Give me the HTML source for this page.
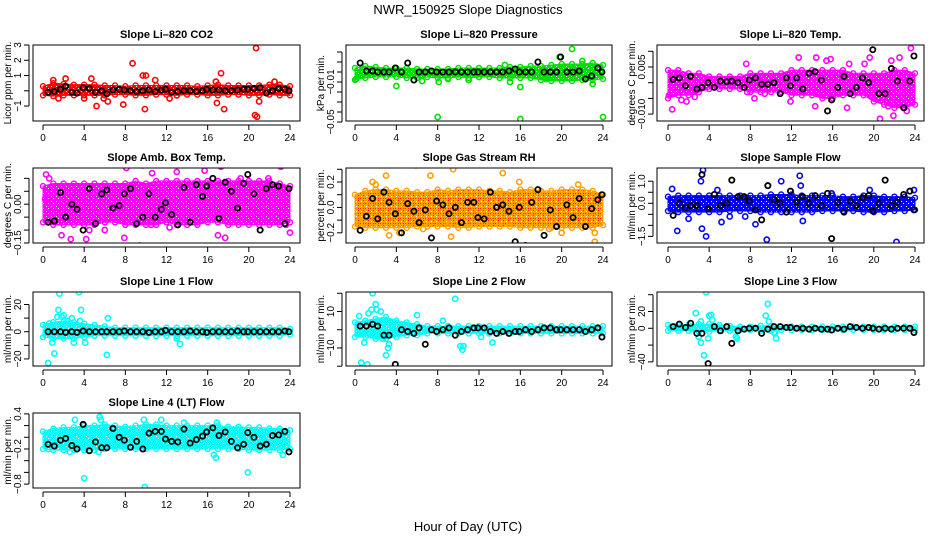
<!DOCTYPE html>
<html><head><meta charset="utf-8">
<style>
html,body{margin:0;padding:0;background:#fff;}
svg{display:block;font-family:"Liberation Sans",sans-serif;}
</style></head>
<body>
<svg id="chart" width="936" height="540" viewBox="0 0 936 540">
<defs id="defs"></defs>
<text x="468" y="14" text-anchor="middle" font-size="13">NWR_150925  Slope Diagnostics</text>
<text x="468" y="531" text-anchor="middle" font-size="13">Hour of Day (UTC)</text>
</svg>
<script>
// shared x positions (hours) of black points
const blkX=[0.5,1.1,1.7,2.2,2.8,3.3,3.9,4.5,5.1,5.7,6.2,6.8,7.4,7.9,8.5,9.1,9.7,10.3,10.9,11.5,11.9,12.5,13.1,13.7,14.3,14.9,15.5,15.9,16.5,17.1,17.7,18.3,18.9,19.5,19.9,20.5,21.1,21.7,22.3,22.9,23.5,23.9];
const bandHours=[0,1,2,3,4,5,6,7,8,9,10,11,12,13,14,15,16,17,18,19,20,21,22,23,24];
const xTicks=[0,4,8,12,16,20,24];

// P1 CO2
const co2Lo=[-0.3,-0.35,-0.3,-0.3,-0.3,-0.3,-0.3,-0.25,-0.25,-0.3,-0.3,-0.25,-0.25,-0.3,-0.25,-0.25,-0.3,-0.3,-0.25,-0.25,-0.3,-0.3,-0.25,-0.3,-0.3];
const co2Hi=[0.3,0.5,0.45,0.4,0.4,0.4,0.35,0.35,0.3,0.35,0.35,0.35,0.35,0.35,0.35,0.3,0.35,0.4,0.35,0.35,0.35,0.35,0.4,0.4,0.3];
const co2OutX=[1,2.2,4.7,4,5.2,6.3,7.8,8.7,9.7,10,9.9,10.9,12.3,16.8,17.3,17.6,16.9,20.7,20.6,20.8,21,1.5,5.9,13,22.5];
const co2OutY=[0.7,0.8,0.8,-0.5,-1,-0.7,-0.9,1.8,1.0,1.0,-1.2,0.7,-0.5,0.6,1.15,-1.2,-0.8,2.8,-1.6,-1.7,-0.7,-0.5,-0.5,-0.3,0.6];
const co2Blk=[-0.1,-0.05,0.1,0.3,-0.1,-0.15,0.2,0.15,-0.1,0.0,-0.2,0.05,0.1,0.05,0.0,-0.05,0.0,0.05,-0.05,0.05,0.1,-0.1,-0.05,0.0,0.0,-0.05,0.0,0.1,0.05,0.05,0.0,0.0,0.05,0.1,0.1,0.15,0.2,-0.15,0.0,0.15,0.1,0.0];
// P2 Pressure
const prLo=[-0.008,-0.006,-0.005,-0.005,-0.005,-0.006,-0.006,-0.005,-0.006,-0.006,-0.005,-0.006,-0.005,-0.005,-0.006,-0.006,-0.006,-0.006,-0.008,-0.009,-0.009,-0.009,-0.008,-0.008,-0.007];
const prHi=[0.004,0.006,0.005,0.004,0.004,0.004,0.003,0.003,0.003,0.003,0.004,0.004,0.004,0.004,0.004,0.005,0.005,0.006,0.006,0.007,0.008,0.008,0.008,0.009,0.007];
const prOutX=[0.1,4,8,8.1,16,16,24,21,19.8,22,23,15,11,6.5,9,14.5,18.5,12];
const prOutY=[-0.007,-0.014,-0.045,-0.01,-0.047,-0.015,-0.045,0.023,0.015,0.011,-0.012,-0.01,-0.008,-0.009,-0.007,0.007,-0.007,-0.005];
const prBlk=[0.009,0.001,0.001,0,0,0,0.004,0,0.009,-0.008,0,0,0.001,0,0,0,0,0,0,0,0,0,0,0,0,0.001,0.003,0,0,0,0.01,0,0,0,0.015,0,0,0.001,-0.007,-0.004,0.004,0];
// P3 Li-820 Temp
const tpLo=[-0.005,-0.004,-0.004,-0.003,-0.002,-0.002,-0.002,-0.002,-0.003,-0.003,-0.003,-0.003,-0.004,-0.004,-0.004,-0.005,-0.005,-0.004,-0.004,-0.004,-0.006,-0.007,-0.008,-0.008,-0.007];
const tpHi=[0.004,0.004,0.003,0.003,0.002,0.002,0.002,0.002,0.003,0.003,0.003,0.003,0.004,0.004,0.004,0.004,0.004,0.004,0.003,0.003,0.003,0.003,0.004,0.004,0.003];
const tpOutX=[0.4,1.3,1.8,2.6,7.6,7.7,8.4,9.4,12.7,11.9,14.4,14.3,15.4,15.8,17.4,17.6,19.1,19.6,20.6,21.4,21.7,21.9,22.5,23.6,23.2,22.8,0.1];
const tpOutY=[-0.0085,-0.0055,-0.006,-0.0045,0.006,-0.003,-0.005,-0.0035,0.008,-0.006,0.008,-0.0075,0.007,0.0075,-0.008,0.006,0.006,0.008,-0.0115,-0.0075,0.007,-0.0105,0.008,0.011,-0.009,-0.003,-0.004];
const tpBlk=[0.001,0.0015,-0.001,0.002,-0.002,-0.0015,0,-0.0015,0.0005,0.0003,0.0005,0,-0.0015,0.0008,0.0015,-0.0005,-0.0005,0,-0.0035,0.0015,-0.001,0.0015,-0.002,0.003,0.0035,0.0008,-0.009,-0.0055,-0.0015,0.002,-0.0035,-0.0015,0.0015,0,0.0105,-0.0035,-0.0035,0.0045,0.0005,-0.008,0.0005,0.0085];
// P4 Amb Box Temp
const abLo=[-0.07,-0.08,-0.08,-0.08,-0.08,-0.08,-0.07,-0.07,-0.08,-0.08,-0.08,-0.08,-0.07,-0.08,-0.08,-0.08,-0.07,-0.07,-0.08,-0.08,-0.08,-0.08,-0.08,-0.08,-0.07];
const abHi=[0.07,0.08,0.08,0.08,0.08,0.08,0.08,0.08,0.08,0.09,0.08,0.09,0.09,0.09,0.09,0.09,0.09,0.09,0.09,0.09,0.09,0.09,0.09,0.08,0.07];
const abOutX=[0.3,0.6,2.7,4.2,4.5,9.7,8.1,7.9,9.4,10.5,13,15.7,17.3,17,17.7,21.9,23.1,24,1.8,0.2,12.3,19.2,23.6,6,10.6];
const abOutY=[0.115,0.1,-0.135,-0.135,-0.1,0.15,0.14,-0.13,-0.16,-0.08,0.125,0.13,0.145,-0.12,-0.13,0.1,0.145,-0.11,-0.12,0.02,-0.09,0.1,-0.08,-0.1,0.12];
const abBlk=[-0.07,-0.065,0.045,-0.05,0,-0.02,-0.1,0.06,-0.075,0.04,0.055,-0.015,-0.005,0.04,0.06,-0.075,-0.05,0.04,-0.05,-0.02,0.005,-0.04,-0.08,0.065,-0.07,0.075,0.03,0.07,0.1,-0.055,0.085,0.05,-0.015,0.08,0.115,0.04,-0.1,0.06,0.075,0.07,-0.075,0.06];
// P5 Gas Stream RH
const rhLo=[-0.15,-0.16,-0.16,-0.16,-0.16,-0.16,-0.15,-0.15,-0.15,-0.15,-0.16,-0.16,-0.15,-0.15,-0.15,-0.15,-0.16,-0.16,-0.16,-0.16,-0.16,-0.16,-0.16,-0.16,-0.14];
const rhHi=[0.1,0.13,0.14,0.14,0.13,0.13,0.12,0.12,0.14,0.13,0.14,0.14,0.14,0.13,0.13,0.12,0.14,0.14,0.13,0.13,0.14,0.14,0.14,0.13,0.1];
const rhOutX=[1.7,3,5.9,7.3,9.5,14.3,0.4,3.3,6.6,8.2,9.3,23.2,23.2,20,21.6,15.9,2,4.3,8.9,18.8];
const rhOutY=[0.2,0.25,0.33,0.25,0.3,0.27,-0.1,-0.22,-0.17,-0.13,-0.23,-0.27,-0.2,-0.2,0.18,0.2,0.18,-0.2,-0.12,-0.17];
const rhBlk=[-0.18,-0.07,0.07,-0.09,0.12,0.04,-0.05,-0.2,0.03,-0.03,-0.12,-0.02,-0.24,0.05,0.02,-0.05,0,-0.12,0.04,0.04,-0.08,-0.09,0.12,0,0.02,-0.03,-0.27,0.0,-0.3,0.04,0.14,-0.22,-0.02,-0.15,-0.35,0.02,-0.08,0.07,-0.15,-0.01,0.06,0.1];
// P6 Sample Flow
const sfLo=[-0.35,-0.4,-0.4,-0.4,-0.4,-0.4,-0.35,-0.35,-0.35,-0.4,-0.4,-0.4,-0.4,-0.4,-0.4,-0.35,-0.35,-0.35,-0.35,-0.4,-0.4,-0.4,-0.35,-0.35,-0.3];
const sfHi=[0.3,0.35,0.35,0.35,0.35,0.35,0.35,0.35,0.35,0.35,0.4,0.4,0.4,0.35,0.35,0.35,0.35,0.3,0.3,0.35,0.35,0.3,0.3,0.3,0.25];
const sfOutX=[0.4,0.9,3.2,3.4,3.3,3.7,4.8,5.2,7.5,8.5,9.6,9.7,11.0,12.8,12.9,13.1,15.9,19.6,22.2,23.9,6,2];
const sfOutY=[0.65,-1.25,1.0,1.5,-1.15,-1.5,0.6,-0.85,-0.6,-0.95,-1.65,0.8,1.0,1.25,0.8,-0.8,0.45,0.6,-1.75,0.6,-0.6,-0.7];
const sfBlk=[-0.55,0,-0.2,-0.1,-0.1,1.3,-0.25,0.4,-0.1,0.0,1.05,0.3,0.3,0.1,-0.3,-0.75,0.8,0.15,0.0,-0.4,0.55,0.05,0.3,0.0,0.35,-0.1,0.45,-1.6,0.05,-0.4,0.1,-0.1,0.25,0.35,-0.35,0.0,1.05,-0.1,0.05,0.4,0.55,-0.3];
// P7 Line 1 Flow
const l1Lo=[-4,-5,-5,-5,-4,-3,-3,-3,-3,-3,-3,-3,-3,-3,-3,-3,-3,-3,-3,-3,-3,-3,-3,-3,-2];
const l1Hi=[5,7,8,7,6,5,4,3,3,3,3,3,3,3,3,3,3,3,3,3,3,3,3,3,2];
const l1OutX=[0.5,1.1,0.9,1.6,1.5,1.4,1.8,2.0,2.4,2.8,3.0,3.5,3.7,3.6,4.1,6.2,6.3,13.3,13,0.6,1.0,2.5];
const l1OutY=[-23,-16,-8,28,16,11,11,12,8,10,-8,29,16,8,-8,-17,10,-9,-5,6,5,6];
const l1Blk=[0,0,0,-0.5,0,-0.5,0.5,0,0,0,0,0,0,0.5,0,0,0,-0.5,0,0,1,0,0,0,0.5,0,0,-0.5,0,0,0,0,0.5,0,0,0,0,0,0,0,0.5,0];
// P8 Line 2 Flow
const l2Lo=[-4,-4,-5,-5,-4,-3,-3,-2,-2,-2,-2,-2,-2,-2,-2,-2,-2,-2,-2,-2,-2,-2,-2,-2,-2];
const l2Hi=[4,5,6,7,5,4,3,2,2,2,2,2,2,2,2,2,2,2,2,2,2,2,2,2,2];
const l2OutX=[0.4,1.3,1.6,1.7,2.0,2.1,2.5,2.3,2.7,3.0,3.2,3.3,0.6,1.2,0.9,6.0,9.7,8.5,10.2,10.4,10.5,12.2,13.3,13,2.8];
const l2OutY=[7.5,9,11,20,14,11,10,-3,-5,-14,-10,-8,-18,-19,-7,8,17,5,-9,-11,-9,-4,-7,-2,-3];
const l2Blk=[2,2,3,2,-3,-3,-19,0,-1,-2,1,-8,0,-1,0,1,-3,-1,0,1,1,1,-1,-2,-1,-2,-1,-1,0,-1,0,1,1,0,0,0,0,0,-1,0,1,-4];
// P9 Line 3 Flow
const l3Lo=[-3,-3,-3,-4,-4,-3,-3,-2,-2,-3,-3,-2,-2,-2,-2,-2,-2,-2,-2,-2,-2,-2,-2,-2,-2];
const l3Hi=[4,4,4,5,5,4,3,2,2,3,3,2,2,2,2,2,2,2,2,2,2,2,2,2,2];
const l3OutX=[2.7,3.0,3.2,3.5,3.7,3.9,4.0,4.2,4.3,6.6,6.7,9.5,9.7,9.8,10.3,10.5,10.4,3.2];
const l3OutY=[18,-10,-17,-32,43,-12,15,16,10,-10,-12,15,29,8,-5,-12,-6,8];
const l3Blk=[2,5,1,6,-6,-6,-42,2,-3,2,-18,-3,-1,0,0,-6,-1,2,2,1,1,0,0,-1,0,-1,-1,-2,0,-1,2,1,0,1,0,-1,0,-1,0,0,0,-5];
// P10 Line 4 (LT) Flow
const l4Lo=[-0.2,-0.22,-0.22,-0.22,-0.22,-0.22,-0.2,-0.2,-0.2,-0.2,-0.2,-0.2,-0.2,-0.2,-0.2,-0.2,-0.2,-0.2,-0.2,-0.2,-0.22,-0.22,-0.22,-0.22,-0.2];
const l4Hi=[0.1,0.15,0.17,0.17,0.2,0.2,0.22,0.2,0.18,0.2,0.22,0.22,0.2,0.2,0.2,0.2,0.2,0.2,0.18,0.18,0.17,0.17,0.15,0.15,0.12];
const l4OutX=[4.0,9.9,19.9,3.1,5.5,5.6,9.8,16.6,16.8,23.3,0.5,2.6,5.4,13.7,16.9,11.5];
const l4OutY=[-0.7,-0.85,-0.6,0.3,0.35,0.3,0.3,-0.3,-0.35,-0.3,-0.2,-0.25,-0.25,0.25,0.25,0.3];
const l4Blk=[-0.12,-0.15,-0.05,-0.02,-0.14,-0.2,0.22,-0.23,-0.08,-0.18,-0.18,0.15,0,-0.05,-0.17,-0.07,-0.2,0.07,0.1,0.1,-0.03,-0.07,-0.08,0.14,-0.1,-0.04,0.02,0.09,0.16,0.03,0.09,-0.07,-0.18,-0.12,0.08,0,-0.15,-0.12,0.03,0.04,0.1,-0.25];

const NS='http://www.w3.org/2000/svg';
const svg=document.getElementById('chart');
const defs=document.getElementById('defs');
const cols=[{l:33,r:300,x0:43,x24:290},{l:346,r:612,x0:355,x24:603},{l:657,r:924,x0:668,x24:915}];
const rows=[{t:45,b:121},{t:168,b:243},{t:292,b:366},{t:413,b:488}];
const panels=[
 {key:'co2',title:'Slope Li\u2013820 CO2',yl:'Licor ppm per min.',c:0,r:0,ymin:-1.98,ymax:3.0,ticks:[-1,0,1,2,3],labs:['-1','','1','2','3'],col:'#ff0000',col2:'#ff0000',lo:co2Lo,hi:co2Hi,ox:co2OutX,oy:co2OutY,bk:co2Blk},
 {key:'pressure',title:'Slope Li\u2013820 Pressure',yl:'kPa per min.',c:1,r:0,ymin:-0.049,ymax:0.027,ticks:[-0.05,-0.04,-0.03,-0.02,-0.01,0,0.01,0.02],labs:['-0.05','','','','-0.01','','',''],col:'#00e000',col2:'#00e000',lo:prLo,hi:prHi,ox:prOutX,oy:prOutY,bk:prBlk},
 {key:'temp',title:'Slope Li\u2013820 Temp.',yl:'degrees C per min.',c:2,r:0,ymin:-0.0122,ymax:0.012,ticks:[-0.01,-0.005,0,0.005,0.01],labs:['-0.010','','','0.005',''],col:'#ff00ff',col2:'#ff00ff',lo:tpLo,hi:tpHi,ox:tpOutX,oy:tpOutY,bk:tpBlk},
 {key:'amb-temp',title:'Slope Amb. Box Temp.',yl:'degrees C per min.',c:0,r:1,ymin:-0.15,ymax:0.14,ticks:[-0.15,-0.1,-0.05,0,0.05,0.1],labs:['-0.15','','','0.00','',''],col:'#ff00ff',col2:'#ff00ff',lo:abLo,hi:abHi,ox:abOutX,oy:abOutY,bk:abBlk},
 {key:'gas-rh',title:'Slope Gas Stream RH',yl:'percent per min.',c:1,r:1,ymin:-0.28,ymax:0.31,ticks:[-0.2,-0.1,0,0.1,0.2,0.3],labs:['-0.2','','0.0','','0.2',''],col:'#ffa000',col2:'#ff2000',lo:rhLo,hi:rhHi,ox:rhOutX,oy:rhOutY,bk:rhBlk},
 {key:'sample-flow',title:'Slope Sample Flow',yl:'ml/min per min.',c:2,r:1,ymin:-1.8,ymax:1.6,ticks:[-1.5,-1,-0.5,0,0.5,1],labs:['-1.5','','','0.0','','1.0'],col:'#0000ff',col2:'#0000ff',lo:sfLo,hi:sfHi,ox:sfOutX,oy:sfOutY,bk:sfBlk},
 {key:'line1',title:'Slope Line 1 Flow',yl:'ml/min per min.',c:0,r:2,ymin:-25.2,ymax:29.2,ticks:[-20,-10,0,10,20],labs:['-20','','0','','20'],col:'#00ffff',col2:'#00ffff',lo:l1Lo,hi:l1Hi,ox:l1OutX,oy:l1OutY,bk:l1Blk},
 {key:'line2',title:'Slope Line 2 Flow',yl:'ml/min per min.',c:1,r:2,ymin:-19.9,ymax:20.7,ticks:[-20,-10,0,10,20],labs:['','-10','','10',''],col:'#00ffff',col2:'#00ffff',lo:l2Lo,hi:l2Hi,ox:l2OutX,oy:l2OutY,bk:l2Blk},
 {key:'line3',title:'Slope Line 3 Flow',yl:'ml/min per min.',c:2,r:2,ymin:-44.9,ymax:43.2,ticks:[-40,-20,0,20,40],labs:['-40','','0','20',''],col:'#00ffff',col2:'#00ffff',lo:l3Lo,hi:l3Hi,ox:l3OutX,oy:l3OutY,bk:l3Blk},
 {key:'line4',title:'Slope Line 4 (LT) Flow',yl:'ml/min per min.',c:0,r:3,ymin:-0.867,ymax:0.415,ticks:[-0.8,-0.6,-0.4,-0.2,0,0.2,0.4],labs:['-0.8','','','-0.2','','','0.4'],col:'#00ffff',col2:'#00ffff',lo:l4Lo,hi:l4Hi,ox:l4OutX,oy:l4OutY,bk:l4Blk}
];
function mk(tag,attrs,parent){const e=document.createElementNS(NS,tag);for(const k in attrs)e.setAttribute(k,attrs[k]);(parent||svg).appendChild(e);return e;}

panels.forEach(p=>{
 const C=cols[p.c],R=rows[p.r];
 const xs=h=>C.x0+h/24*(C.x24-C.x0);
 const ys=v=>R.b-(v-p.ymin)/(p.ymax-p.ymin)*(R.b-R.t);
 const pat=mk('pattern',{id:'pat-'+p.key,width:5,height:5,patternUnits:'userSpaceOnUse'},defs);
 mk('rect',{x:0,y:0,width:5,height:5,fill:p.col},pat);
 mk('rect',{x:1,y:1,width:1,height:1,fill:'#fff'},pat);
 mk('rect',{x:3,y:3,width:1,height:1,fill:p.col2===p.col?'#fff':p.col2},pat);
 if(p.col2!==p.col){mk('rect',{x:3,y:0,width:1,height:1,fill:p.col2},pat);mk('rect',{x:0,y:3,width:1,height:1,fill:p.col2},pat);}
 const g=mk('g',{});
 
 
 const clip=mk('clipPath',{id:'clip-'+p.key},g);
 mk('rect',{x:C.l,y:R.t,width:C.r-C.l,height:R.b-R.t},clip);
 const pg=mk('g',{'clip-path':'url(#clip-'+p.key+')'},g);
 
 
 let pts=bandHours.map((h,i)=>xs(h)+','+ys(p.hi[i]));
 pts=pts.concat(bandHours.slice().reverse().map((h,j)=>{const i=bandHours.length-1-j;return xs(h)+','+ys(p.lo[i]);}));
 const band=mk('polygon',{points:pts.join(' '),fill:'url(#pat-'+p.key+')',stroke:p.col,'stroke-width':1,'stroke-linejoin':'round'},pg);
 
 
 bandHours.forEach((h,i)=>{
  [p.lo[i],p.hi[i]].forEach(v=>{
   const c=mk('circle',{cx:xs(h),cy:ys(v),r:2.5,fill:'none',stroke:p.col,'stroke-width':1.4},pg);
   
   
  });
 });
 p.ox.forEach((h,i)=>{
  const c=mk('circle',{cx:xs(h),cy:ys(p.oy[i]),r:2.6,fill:'none',stroke:p.col,'stroke-width':1.6},pg);
  
  
 });
 blkX.forEach((h,i)=>{
  const c=mk('circle',{cx:xs(h),cy:ys(p.bk[i]),r:2.6,fill:'none',stroke:'#000','stroke-width':1.8},pg);
  
  
 });
 const box=mk('rect',{x:C.l,y:R.t,width:C.r-C.l,height:R.b-R.t,fill:'none',stroke:'#000','stroke-width':1},g);
 
 
 const t=mk('text',{x:(C.l+C.r)/2,y:R.t-7,'text-anchor':'middle','font-size':11,'font-weight':'bold'},g);
 t.textContent=p.title;
 
 
 mk('line',{x1:C.x0,x2:C.x24,y1:R.b+4,y2:R.b+4,stroke:'#000'},g);
 xTicks.forEach(h=>{
  mk('line',{x1:xs(h),x2:xs(h),y1:R.b+4,y2:R.b+9,stroke:'#000'},g);
  const tl=mk('text',{x:xs(h),y:R.b+20,'text-anchor':'middle','font-size':10},g);
  tl.textContent=h;
  
  
 });
 const ax=C.l-4;
 mk('line',{x1:ax,x2:ax,y1:ys(p.ticks[0]),y2:ys(p.ticks[p.ticks.length-1]),stroke:'#000'},g);
 p.ticks.forEach((v,i)=>{
  mk('line',{x1:ax-5,x2:ax,y1:ys(v),y2:ys(v),stroke:'#000'},g);
  if(p.labs[i]){
   const yl=mk('text',{x:ax-8,y:ys(v),'text-anchor':'middle','font-size':10,transform:'rotate(-90 '+(ax-8)+' '+ys(v)+')'},g);
   yl.textContent=p.labs[i].replace('-','\u2212');
   
   
  }
 });
 const yt=mk('text',{x:C.l-22,y:(R.t+R.b)/2,'text-anchor':'middle','font-size':10,transform:'rotate(-90 '+(C.l-22)+' '+((R.t+R.b)/2)+')'},g);
 yt.textContent=p.yl;
 
 
});
</script>
</body></html>
